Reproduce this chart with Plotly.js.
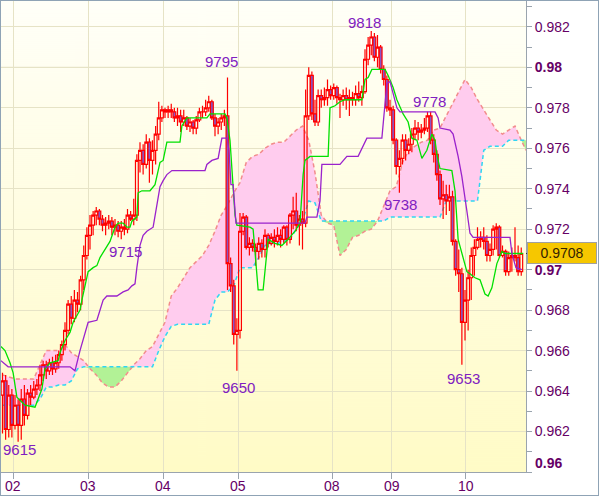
<!DOCTYPE html>
<html><head><meta charset="utf-8">
<script src="https://cdn.plot.ly/plotly-3.0.1.min.js"></script>
<style>
html,body{margin:0;padding:0;background:#fff;}
#wrap{position:relative;width:600px;height:497px;}
#chart{position:absolute;left:0;top:0;width:600px;height:497px;}
#frame{position:absolute;left:0;top:0;width:597px;height:494px;border:1px solid #8fa3b5;pointer-events:none;}
</style></head>
<body><div id="wrap"><div id="chart"></div><div id="frame"></div></div>
<script>
// ---- price bars (values in 1e-4 units, e.g. 9650 = 0.9650) ----
const openP = [9638,9645,9621,9638,9623,9633,9623,9636,9628,9639,9637,9641,9643,9648,9653,9650,9654,9651,9654,9658,
9663,9670,9683,9676,9685,9683,9695,9707,9717,9722,9727,9729,9725,9722,9723,9724,9721,9722,9719,9721,
9720,9727,9725,9727,9754,9759,9752,9763,9754,9759,9767,9775,9779,9778,9779,9778,9775,9776,9773,9775,
9771,9773,9770,9774,9778,9778,9780,9783,9775,9771,9773,9775,9776,9703,9692,9668,9670,9719,9726,9711,
9713,9711,9709,9713,9710,9717,9713,9716,9714,9717,9715,9721,9715,9727,9729,9722,9725,9723,9776,9796,
9777,9773,9786,9784,9785,9789,9786,9790,9785,9784,9786,9784,9785,9784,9787,9785,9788,9804,9811,9815,
9805,9810,9799,9794,9780,9779,9764,9751,9755,9764,9759,9762,9767,9770,9768,9769,9770,9776,9764,9757,
9747,9735,9737,9734,9736,9714,9700,9698,9674,9685,9696,9707,9711,9715,9716,9714,9707,9710,9720,9721,
9707,9709,9699,9706,9707,9706,9699];
const highP = [9649,9648,9643,9641,9638,9636,9641,9643,9641,9643,9645,9646,9653,9655,9655,9656,9657,9658,9660,9665,
9674,9685,9687,9690,9689,9697,9712,9721,9727,9729,9731,9730,9727,9726,9727,9726,9725,9724,9724,9725,
9730,9729,9735,9757,9763,9762,9767,9765,9764,9771,9783,9781,9780,9781,9782,9780,9780,9779,9779,9776,
9775,9774,9776,9780,9781,9784,9786,9784,9777,9775,9777,9779,9795,9706,9695,9676,9728,9728,9727,9716,
9715,9713,9716,9715,9720,9718,9718,9720,9721,9720,9722,9722,9728,9736,9738,9727,9729,9789,9800,9798,
9784,9789,9789,9790,9794,9791,9792,9791,9787,9789,9790,9789,9788,9791,9793,9791,9809,9815,9818,9817,
9816,9811,9801,9796,9784,9781,9765,9759,9767,9767,9765,9770,9774,9773,9772,9775,9778,9778,9767,9759,
9749,9744,9742,9742,9739,9715,9710,9701,9690,9700,9711,9715,9721,9719,9721,9717,9713,9722,9723,9722,
9712,9710,9709,9711,9721,9712,9711];
const lowP = [9619,9616,9617,9617,9621,9615,9616,9623,9626,9633,9636,9638,9640,9645,9646,9648,9648,9649,9651,9655,
9660,9668,9673,9674,9679,9680,9690,9705,9710,9717,9722,9722,9719,9717,9720,9717,9717,9716,9715,9717,
9718,9724,9722,9724,9748,9747,9750,9743,9747,9752,9764,9773,9775,9775,9775,9773,9771,9768,9771,9769,
9768,9767,9767,9773,9775,9776,9778,9774,9766,9767,9769,9771,9690,9689,9663,9650,9666,9717,9710,9707,
9709,9702,9705,9706,9706,9711,9712,9711,9712,9711,9713,9712,9713,9720,9719,9712,9710,9721,9774,9774,
9771,9771,9780,9781,9781,9784,9784,9782,9775,9781,9779,9776,9781,9781,9783,9781,9787,9801,9806,9803,
9800,9797,9791,9778,9776,9762,9747,9738,9752,9754,9757,9758,9764,9764,9765,9767,9768,9762,9753,9744,
9732,9725,9727,9729,9712,9697,9689,9653,9665,9670,9685,9697,9710,9711,9710,9704,9704,9707,9710,9706,
9706,9697,9697,9699,9704,9697,9697];
const closeP = [9645,9621,9638,9623,9633,9623,9636,9628,9639,9637,9641,9643,9648,9653,9650,9654,9651,9654,9658,9663,
9670,9683,9676,9685,9683,9695,9707,9717,9722,9727,9729,9725,9722,9723,9724,9721,9722,9719,9721,9720,
9727,9725,9727,9754,9759,9752,9763,9754,9759,9767,9775,9779,9778,9779,9778,9775,9776,9773,9775,9771,
9773,9770,9774,9778,9778,9780,9783,9775,9771,9773,9775,9776,9703,9692,9668,9670,9719,9726,9711,9713,
9711,9709,9713,9710,9717,9713,9716,9714,9717,9715,9721,9715,9727,9729,9722,9725,9723,9776,9796,9777,
9773,9786,9784,9785,9789,9786,9790,9785,9784,9786,9784,9785,9784,9787,9785,9788,9804,9811,9815,9805,
9810,9799,9794,9780,9779,9764,9751,9755,9764,9759,9762,9767,9770,9768,9769,9770,9776,9764,9757,9747,
9735,9737,9734,9736,9714,9700,9698,9674,9685,9696,9707,9711,9715,9716,9714,9707,9710,9720,9721,9707,
9709,9699,9706,9707,9706,9699,9708];

// ---- Ichimoku lines: [bar position, value] breakpoints ----
const tenkanX = [-0.5,0.8,2.4,3.4,4.6,7.2,10.4,11.4,12.6,13.6,15.2,17.8,18.4,20,21.6,22.6,24.8,25.4,27.4,29,30.2,31.2,32.8,34.4,36,37,38.6,39.8,40.8,41.4,43,43.4,44.6,47.2,48.8,50.4,51.4,52.6,56.8,57.4,59,65.4,66.4,71.2,71.8,72.8,74.4,75,79.2,80.2,81.8,83.4,85,87.2,89.4,91.4,93.6,95.2,96.2,96.8,98.4,104.2,104.8,106.4,108,109.6,115,116,117,118.2,122.4,123.4,125,126.2,128.2,129.8,131,132.6,134.2,135.8,137.4,138.4,139,140,143.8,144.8,145.8,148.6,149.6,151.2,152.8,154.4,155.4,156.6,158.2,159.8,160.8,166.6];
const tenkanV = [9662,9660,9654,9649,9637,9633,9632,9636,9641,9651,9654,9655,9659,9665,9669,9674,9680,9685,9699,9701,9702,9706,9710,9714,9721,9723,9723,9721,9721,9724,9726,9738,9739,9739,9742,9753,9754,9763,9763,9771,9775,9775,9777,9777,9775,9764,9727,9722,9721,9720,9690,9690,9715,9713,9712,9715,9719,9723,9747,9754,9756,9756,9780,9781,9783,9784,9784,9794,9795,9799,9799,9796,9790,9784,9777,9773,9765,9764,9755,9759,9767,9764,9757,9750,9749,9739,9715,9699,9698,9696,9695,9688,9687,9691,9703,9709,9708,9708];
const kijunX = [-0.5,1.8,21.6,23.2,24.8,27.4,30.2,31.2,32.2,33.4,36.6,38.6,40.2,41.4,42.4,43,44,45,46.2,48.2,49.4,50.4,51.4,52.6,54.2,64.8,65.4,67,69,70.2,71.8,72.5,73.1,73.8,74.7,96.8,97.4,100.6,101.6,102.2,108,109,110.2,113.8,115,116,116.6,121.4,122.4,123,124,125,126.2,127.2,138.4,139.4,140,143.2,144.2,145.8,147,148.6,149.6,150.6,162.4,163,164.3,166.2];
const kijunV = [9655,9652,9652,9650,9660,9674,9675,9680,9685,9687,9687,9689,9690,9692,9693,9701,9712,9717,9719,9721,9732,9741,9744,9747,9749,9749,9752,9754,9755,9765,9765,9759,9742,9742,9723,9723,9726,9726,9734,9752,9752,9754,9756,9756,9760,9763,9765,9765,9780,9792,9793,9787,9780,9778,9778,9775,9770,9769,9767,9756,9746,9729,9718,9716,9716,9708,9701,9700];
const cloudX = [0,2,4,6,8,10,12,14,16,18,20,22,24,26,28,30,32,34,36,38,40,42,44,46,48,50,52,54,56,58,60,62,64,66,68,70,72,74,76,78,80,82,84,86,88,90,92,94,96,98,100,102,104,106,108,110,112,114,116,118,120,122,124,126,128,130,132,134,136,138,140,142,144,146,148,150,152,154,156,158,160,162,164,166,167.52];
const spanA = [9648,9647,9646,9646,9646,9646,9653,9660,9660,9660,
9663,9659,9657,9655,9651,9648,9644,9642,9642,9645,
9649,9653,9656,9660,9662,9668,9674,9687,9691,9696,
9701,9704,9707,9712,9719,9727,9732,9738,9743,9753,
9756,9757,9760,9762,9763,9763,9766,9769,9771,9764,
9748,9727,9723,9722,9707,9710,9716,9717,9719,9720,
9724,9732,9739,9741,9753,9759,9761,9763,9764,9769,
9770,9776,9782,9788,9794,9790,9784,9779,9774,9769,
9767,9769,9771,9764,9759];
const spanB = [9633,9633,9633,9633,9633,9633,9636,9642,9642,9643,
9643,9645,9651,9652,9652,9652,9652,9652,9652,9652,
9652,9652,9652,9652,9652,9660,9667,9672,9673,9673,
9673,9673,9673,9673,9685,9689,9689,9692,9701,9701,
9701,9706,9712,9713,9713,9714,9715,9720,9724,9734,
9733,9724,9724,9724,9724,9724,9724,9724,9724,9724,
9724,9724,9726,9726,9726,9726,9726,9726,9726,9726,
9726,9734,9734,9734,9734,9734,9734,9759,9761,9761,
9761,9764,9764,9764,9764];

// ---- extreme labels ----
const labelText = ['9615','9715','9795','9650','9818','9778','9738','9653'];
const labelPos  = [5.3, 39.2, 70.2, 75.4, 115.7, 136.5, 127.2, 147.4];
const labelVal  = [9611, 9709, 9803, 9642, 9822, 9783, 9732, 9646];

// ---- axis ticks ----
const dayLabels = ['02','03','04','05','08','09','10'];
const dayPos = [3.46, 27.46, 51.46, 75.46, 105.5, 124.5, 148.3];
const yTickVals = [0.962,0.964,0.966,0.968,0.97,0.972,0.974,0.976,0.978,0.98,0.982];
const yTickText = ['0.962','0.964','0.966','0.968','<b>0.97</b>','0.972','0.974','0.976','0.978','<b>0.98</b>','0.982'];
const lastPrice = 0.9708;

const P = v => v.map(x => x / 10000);
const FONT = 'Liberation Sans, Arial, sans-serif';
const barIdx = closeP.map((_, k) => k);
const hi = spanA.map((a, k) => Math.max(a, spanB[k]));
const lo = spanA.map((a, k) => Math.min(a, spanB[k]));

const none = {width: 0};
const traces = [
  {x: cloudX, y: P(spanB), mode: 'lines', line: none, hoverinfo: 'skip'},
  {x: cloudX, y: P(hi), mode: 'lines', line: none, fill: 'tonexty', fillcolor: '#ffccee', hoverinfo: 'skip'},
  {x: cloudX, y: P(spanB), mode: 'lines', line: none, hoverinfo: 'skip'},
  {x: cloudX, y: P(lo), mode: 'lines', line: none, fill: 'tonexty', fillcolor: '#b2f296', hoverinfo: 'skip'},
  {x: cloudX, y: P(spanA), mode: 'lines', line: {color: '#f28c8c', width: 1.5, dash: '4px,3px'}, hoverinfo: 'skip'},
  {x: cloudX, y: P(spanB), mode: 'lines', line: {color: '#30d6f2', width: 1.5, dash: '4px,3px'}, hoverinfo: 'skip'},
  {type: 'candlestick', x: barIdx, open: P(openP), high: P(highP), low: P(lowP), close: P(closeP),
   xaxis: 'x2', yaxis: 'y2', whiskerwidth: 0, hoverinfo: 'skip',
   increasing: {line: {color: '#ff0000', width: 1.2}, fillcolor: 'rgba(0,0,0,0)'},
   decreasing: {line: {color: '#ff0000', width: 1.2}, fillcolor: '#8a55c5'}},
  {x: tenkanX, y: P(tenkanV), xaxis: 'x2', yaxis: 'y2', mode: 'lines', line: {color: '#00e000', width: 1.3}, hoverinfo: 'skip'},
  {x: kijunX, y: P(kijunV), xaxis: 'x2', yaxis: 'y2', mode: 'lines', line: {color: '#9a22cc', width: 1.3}, hoverinfo: 'skip'}
];

const annotations = labelText.map((t, k) => ({
  x: labelPos[k], y: labelVal[k] / 10000, xref: 'x', yref: 'y', text: t, showarrow: false,
  xanchor: 'center', yanchor: 'middle', font: {family: FONT, size: 15, color: '#8020c0'}
}));
dayLabels.forEach((t, k) => annotations.push({
  x: dayPos[k], xref: 'x', yref: 'paper', y: (472 - 486) / 471, yanchor: 'middle', xanchor: 'center',
  text: t, showarrow: false, font: {family: FONT, size: 14, color: '#660066'}
}));
annotations.push({xref: 'paper', yref: 'paper', x: (533 - 1) / 525, y: (472 - 463) / 471, xanchor: 'left', yanchor: 'middle',
  text: '<b>0.96</b>', showarrow: false, font: {family: FONT, size: 14, color: '#660066'}});
annotations.push({xref: 'paper', yref: 'y', x: (527 - 1) / 525, y: lastPrice, xanchor: 'left', yanchor: 'middle',
  text: '0.9708', showarrow: false, bgcolor: '#f6c700', bordercolor: '#a0a0a0', borderwidth: 1, borderpad: 2,
  width: 64, height: 16, font: {family: FONT, size: 14, color: '#332200'}});

// background gradient
const cv = document.createElement('canvas'); cv.width = 4; cv.height = 471;
const ctx = cv.getContext('2d');
const g = ctx.createLinearGradient(0, 0, 0, 471);
g.addColorStop(0, '#fffff8'); g.addColorStop(1, '#fffbc6');
ctx.fillStyle = g; ctx.fillRect(0, 0, 4, 471);
const bg = cv.toDataURL('image/png');

const axisCol = '#9aa4ae', gridCol = '#e6e3c6';
const layout = {
  width: 600, height: 497, showlegend: false,
  margin: {l: 1, r: 74, t: 1, b: 25, autoexpand: false},
  paper_bgcolor: '#ffffff', plot_bgcolor: 'rgba(0,0,0,0)',
  boxgap: 0.1, boxgroupgap: 0,
  images: [{source: bg, xref: 'paper', yref: 'paper', x: 0, y: 1, sizex: 1, sizey: 1, sizing: 'stretch', xanchor: 'left', yanchor: 'top', layer: 'below'}],
  xaxis: {range: [-0.48, 167.52], tickmode: 'array', tickvals: dayPos, showticklabels: false, ticks: 'outside', ticklen: 6,
    tickcolor: axisCol, showgrid: true, gridcolor: gridCol, gridwidth: 1, showline: true, linecolor: axisCol, zeroline: false,
    fixedrange: true, rangeslider: {visible: false}},
  yaxis: {range: [0.96, 0.98328], side: 'right', tickmode: 'array', tickvals: yTickVals, ticktext: yTickText,
    ticks: 'outside', ticklen: 5, tickcolor: axisCol,
    minor: {dtick: 0.001, tick0: 0.96, ticks: 'outside', ticklen: 5, tickcolor: axisCol, showgrid: false},
    showgrid: true, gridcolor: gridCol, gridwidth: 1, showline: true, linecolor: axisCol, zeroline: false,
    tickfont: {family: FONT, size: 14, color: '#660066'}, fixedrange: true},
  xaxis2: {overlaying: 'x', range: [-0.48, 167.52], visible: false, showgrid: false, zeroline: false, rangeslider: {visible: false}, fixedrange: true},
  yaxis2: {overlaying: 'y', range: [0.96, 0.98328], visible: false, showgrid: false, zeroline: false, side: 'right', fixedrange: true},
  shapes: [
    {type: 'line', xref: 'paper', yref: 'y', x0: 0, x1: 1, y0: 0.98, y1: 0.98, line: {color: '#d2cfa6', width: 1}, layer: 'below'},
    {type: 'line', xref: 'paper', yref: 'y', x0: 1, x1: (531 - 1) / 525, y0: lastPrice, y1: lastPrice, line: {color: '#333333', width: 1}}
  ],
  annotations: annotations
};
Plotly.newPlot('chart', traces, layout, {staticPlot: true, displayModeBar: false});
</script></body></html>
